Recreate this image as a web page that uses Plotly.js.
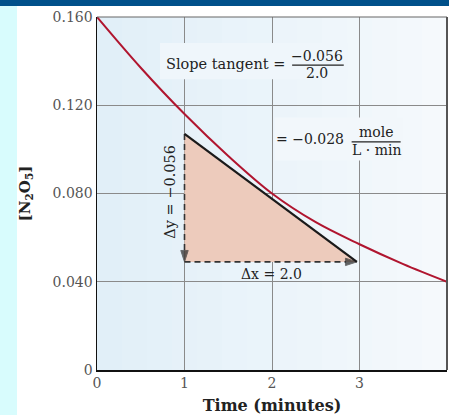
<!DOCTYPE html>
<html><head><meta charset="utf-8">
<script src="https://cdn.plot.ly/plotly-3.0.1.min.js"></script>
<style>
html,body{margin:0;padding:0;background:#fff;overflow:hidden;}
#wrap{position:relative;width:449px;height:415px;background:linear-gradient(to right,#d8fcfd 0,#d8fcfd 17px,#ffffff 17px);}
#band{position:absolute;left:0;top:0;width:449px;height:6px;background:#00508a;}
#chart{position:absolute;left:0;top:0;width:449px;height:415px;}
</style></head><body>
<div id="wrap"><div id="chart"></div><div id="band"></div></div>
<script>
// Concentration of N2O5 vs time
const timeMin   = [0, 0.5, 1, 1.5, 2, 2.5, 3, 3.5, 4];
const concN2O5  = [0.160, 0.137, 0.116, 0.097, 0.080, 0.067, 0.057, 0.048, 0.040];
// Tangent line at t = 2
const tangentT  = [1, 2.97];
const tangentY  = [0.107, 0.049];
// Triangle (rise/run)
const triT      = [1, 1, 2.97];
const triY      = [0.107, 0.049, 0.049];
// Dashed arrows
const dyArrowT  = [1, 1];
const dyArrowY  = [0.107, 0.049];
const dxArrowT  = [1, 2.97];
const dxArrowY  = [0.049, 0.049];
// Ticks
const xTickVals = [0, 1, 2, 3, 4];
const xTickText = ['0', '1', '2', '3', '4'];
const yTickVals = [0, 0.04, 0.08, 0.12, 0.16];
const yTickText = ['0', '0.040', '0.080', '0.120', '0.160'];

const serif = 'DejaVu Serif, Liberation Serif, serif';
const ink = '#222222';

const traces = [
  {x: triT, y: triY, mode: 'lines', fill: 'toself', fillcolor: '#edcbbc',
   line: {width: 0, color: 'rgba(0,0,0,0)'}, hoverinfo: 'skip', showlegend: false},
  {x: dyArrowT, y: dyArrowY, mode: 'lines+markers', line: {color: '#333', width: 1.6, dash: '6px,4px'},
   marker: {symbol: 'arrow', size: [0, 12], angleref: 'previous', color: '#222'}, hoverinfo: 'skip', showlegend: false},
  {x: dxArrowT, y: dxArrowY, mode: 'lines+markers', line: {color: '#333', width: 1.6, dash: '6px,4px'},
   marker: {symbol: 'arrow', size: [0, 12], angleref: 'previous', color: '#222'}, hoverinfo: 'skip', showlegend: false},
  {x: timeMin, y: concN2O5, mode: 'lines', line: {color: '#b0152f', width: 2, shape: 'spline', smoothing: 1},
   hoverinfo: 'skip', showlegend: false},
  {x: tangentT, y: tangentY, mode: 'lines', line: {color: '#1a1a1a', width: 2.2},
   hoverinfo: 'skip', showlegend: false}
];

// background gradient strips
const shapes = [];
const nStrip = 14;
const c0 = [225, 239, 248], c1 = [245, 249, 252];
for (let i = 0; i < nStrip; i++) {
  const f = i / (nStrip - 1);
  const c = c0.map((v, k) => Math.round(v + (c1[k] - v) * f));
  shapes.push({type: 'rect', xref: 'paper', yref: 'paper', x0: i / nStrip, x1: (i + 1) / nStrip + 0.002,
    y0: 0, y1: 1, fillcolor: 'rgb(' + c.join(',') + ')', line: {width: 0}, layer: 'below'});
}
// boxes behind texts
shapes.push({type: 'rect', xref: 'x', yref: 'y', x0: 0.72, x1: 2.87, y0: 0.1318, y1: 0.1482,
  fillcolor: '#eff6fb', line: {width: 0}, layer: 'between'});
shapes.push({type: 'rect', xref: 'x', yref: 'y', x0: 2.03, x1: 3.5, y0: 0.095, y1: 0.1145,
  fillcolor: '#f2f7fb', line: {width: 0}, layer: 'between'});
// fraction bars
shapes.push({type: 'line', xref: 'x', yref: 'y', x0: 2.23, x1: 2.82, y0: 0.1382, y1: 0.1382, line: {color: ink, width: 1.2}});
shapes.push({type: 'line', xref: 'x', yref: 'y', x0: 2.91, x1: 3.47, y0: 0.1034, y1: 0.1034, line: {color: ink, width: 1.2}});
// frame top/right
shapes.push({type: 'line', xref: 'paper', yref: 'paper', x0: 0, x1: 1, y0: 1, y1: 1, line: {color: '#666', width: 1.2}});
shapes.push({type: 'line', xref: 'paper', yref: 'paper', x0: 1, x1: 1, y0: 0, y1: 1, line: {color: '#555', width: 2}});

const af = {family: serif, size: 14, color: ink};
const annotations = [
  {x: 2.17, y: 0.1388, xanchor: 'right', text: 'Slope tangent =', showarrow: false, font: {family: serif, size: 14.5, color: ink}},
  {x: 2.51, y: 0.1423, text: '\u22120.056', showarrow: false, font: af},
  {x: 2.51, y: 0.1345, text: '2.0', showarrow: false, font: af},
  {x: 2.43, y: 0.1045, text: '= \u22120.028', showarrow: false, font: af},
  {x: 3.19, y: 0.1077, text: 'mole', showarrow: false, font: af},
  {x: 3.19, y: 0.0995, text: 'L \u00b7 min', showarrow: false, font: af},
  {x: 0.84, y: 0.0806, text: '\u0394y = \u22120.056', textangle: -90, showarrow: false, font: {family: serif, size: 14.5, color: ink}},
  {x: 1.99, y: 0.0436, text: '\u0394x = 2.0', showarrow: false, font: af}
];

const layout = {
  width: 449, height: 415,
  margin: {l: 97, r: 2, t: 17, b: 45, pad: 0},
  paper_bgcolor: 'rgba(0,0,0,0)',
  plot_bgcolor: 'rgb(235,244,250)',
  showlegend: false,
  xaxis: {
    range: [0, 4], tickvals: xTickVals, ticktext: xTickText, ticks: '',
    showgrid: true, gridcolor: '#8a8a8a', gridwidth: 1, zeroline: false,
    showline: true, linecolor: '#111', linewidth: 1.5,
    tickfont: {family: serif, size: 14, color: '#555'},
    title: {text: '<b>Time (minutes)</b>', font: {family: serif, size: 16, color: ink}, standoff: 9},
    automargin: false
  },
  yaxis: {
    range: [0, 0.16], tickvals: yTickVals, ticktext: yTickText, ticks: '',
    showgrid: true, gridcolor: '#8a8a8a', gridwidth: 1, zeroline: false,
    showline: true, linecolor: '#111', linewidth: 1.5,
    tickfont: {family: serif, size: 14, color: '#555'},
    title: {text: '<b>[N<sub>2</sub>O<sub>5</sub>]</b>', font: {family: serif, size: 15, color: ink}, standoff: 18},
    automargin: false
  },
  shapes: shapes,
  annotations: annotations
};

Plotly.newPlot('chart', traces, layout, {displayModeBar: false, staticPlot: true});
</script>
</body></html>
